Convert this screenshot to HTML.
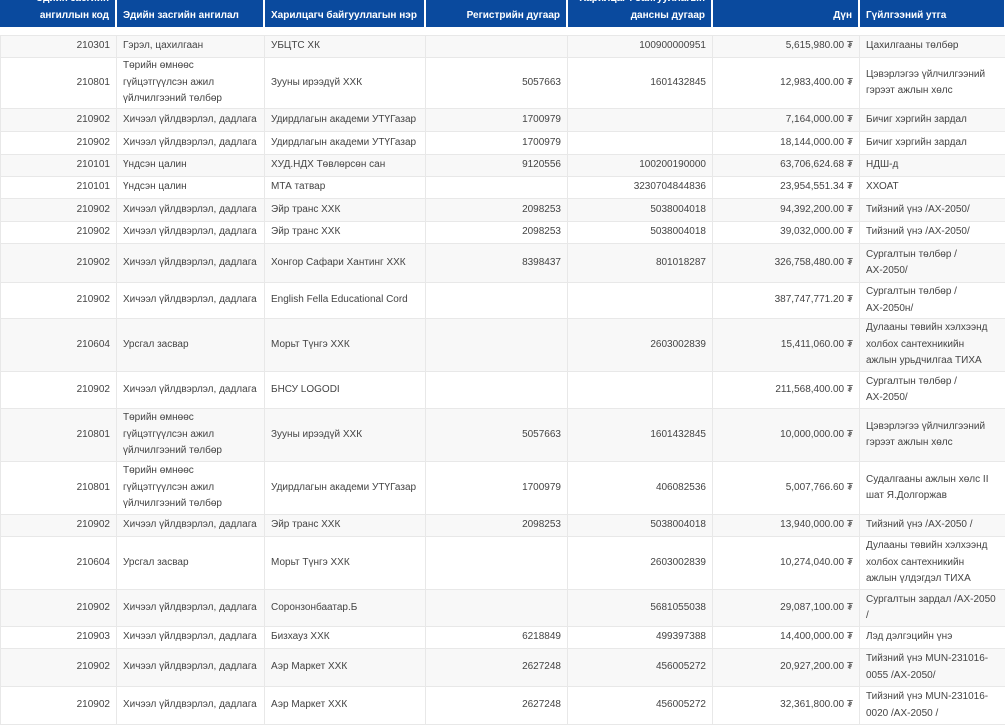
<!DOCTYPE html><html><head><meta charset="utf-8"><style>
body{margin:0;width:1005px;height:722px;overflow:hidden;background:#fff;font-family:"Liberation Sans","DejaVu Sans",sans-serif}
table{position:absolute;left:0;border-collapse:collapse;table-layout:fixed;width:1005px}
#h{top:-17px}
#h td{background:#0a4a9e;color:#fff;height:44px;font-size:10px;font-weight:bold;line-height:17px;border-right:2px solid #fff;padding:0 6px;vertical-align:bottom;padding-bottom:3px;box-sizing:border-box}
#b{top:35px}
#b td{font-size:10px;color:#444;line-height:16.5px;border:1px solid #e8e8e8;padding:0 6px;vertical-align:middle;overflow:hidden;box-sizing:border-box}
#b td:last-child{white-space:nowrap}
#b tr:nth-child(odd) td{background:#f8f8f8}
.r{text-align:right}
</style></head><body>
<table id="h"><colgroup><col style="width:116px"><col style="width:148px"><col style="width:161px"><col style="width:142px"><col style="width:145px"><col style="width:147px"><col style="width:146px"></colgroup>
<tr><td class="r">Эдийн засгийн ангиллын код</td><td>Эдийн засгийн ангилал</td><td>Харилцагч байгууллагын нэр</td><td class="r">Регистрийн дугаар</td><td class="r">Харилцагч байгууллагын дансны дугаар</td><td class="r">Дүн</td><td>Гүйлгээний утга</td></tr></table>
<table id="b"><colgroup><col style="width:116px"><col style="width:148px"><col style="width:161px"><col style="width:142px"><col style="width:145px"><col style="width:147px"><col style="width:146px"></colgroup>
<tr style="height:22px"><td class="r">210301</td><td>Гэрэл, цахилгаан</td><td>УБЦТС ХК</td><td></td><td class="r">100900000951</td><td class="r">5,615,980.00 ₮</td><td>Цахилгааны төлбөр</td></tr>
<tr style="height:51px"><td class="r">210801</td><td>Төрийн өмнөөс гүйцэтгүүлсэн ажил үйлчилгээний төлбөр</td><td>Зууны ирээдүй ХХК</td><td class="r">5057663</td><td class="r">1601432845</td><td class="r">12,983,400.00 ₮</td><td>Цэвэрлэгээ үйлчилгээний<br>гэрээт ажлын хөлс</td></tr>
<tr style="height:23px"><td class="r">210902</td><td>Хичээл үйлдвэрлэл, дадлага</td><td>Удирдлагын академи УТҮГазар</td><td class="r">1700979</td><td></td><td class="r">7,164,000.00 ₮</td><td>Бичиг хэргийн зардал</td></tr>
<tr style="height:23px"><td class="r">210902</td><td>Хичээл үйлдвэрлэл, дадлага</td><td>Удирдлагын академи УТҮГазар</td><td class="r">1700979</td><td></td><td class="r">18,144,000.00 ₮</td><td>Бичиг хэргийн зардал</td></tr>
<tr style="height:22px"><td class="r">210101</td><td>Үндсэн цалин</td><td>ХУД.НДХ Төвлөрсөн сан</td><td class="r">9120556</td><td class="r">100200190000</td><td class="r">63,706,624.68 ₮</td><td>НДШ-д</td></tr>
<tr style="height:22px"><td class="r">210101</td><td>Үндсэн цалин</td><td>МТА татвар</td><td></td><td class="r">3230704844836</td><td class="r">23,954,551.34 ₮</td><td>ХХОАТ</td></tr>
<tr style="height:23px"><td class="r">210902</td><td>Хичээл үйлдвэрлэл, дадлага</td><td>Эйр транс ХХК</td><td class="r">2098253</td><td class="r">5038004018</td><td class="r">94,392,200.00 ₮</td><td>Тийзний үнэ /АХ-2050/</td></tr>
<tr style="height:22px"><td class="r">210902</td><td>Хичээл үйлдвэрлэл, дадлага</td><td>Эйр транс ХХК</td><td class="r">2098253</td><td class="r">5038004018</td><td class="r">39,032,000.00 ₮</td><td>Тийзний үнэ /АХ-2050/</td></tr>
<tr style="height:39px"><td class="r">210902</td><td>Хичээл үйлдвэрлэл, дадлага</td><td>Хонгор Сафари Хантинг ХХК</td><td class="r">8398437</td><td class="r">801018287</td><td class="r">326,758,480.00 ₮</td><td>Сургалтын төлбөр /<br>АХ-2050/</td></tr>
<tr style="height:36px"><td class="r">210902</td><td>Хичээл үйлдвэрлэл, дадлага</td><td>English Fella Educational Cord</td><td></td><td></td><td class="r">387,747,771.20 ₮</td><td>Сургалтын төлбөр /<br>АХ-2050н/</td></tr>
<tr style="height:53px"><td class="r">210604</td><td>Урсгал засвар</td><td>Морьт Түнгэ ХХК</td><td></td><td class="r">2603002839</td><td class="r">15,411,060.00 ₮</td><td>Дулааны төвийн хэлхээнд<br>холбох сантехникийн<br>ажлын урьдчилгаа ТИХА</td></tr>
<tr style="height:37px"><td class="r">210902</td><td>Хичээл үйлдвэрлэл, дадлага</td><td>БНСУ LOGODI</td><td></td><td></td><td class="r">211,568,400.00 ₮</td><td>Сургалтын төлбөр /<br>АХ-2050/</td></tr>
<tr style="height:53px"><td class="r">210801</td><td>Төрийн өмнөөс гүйцэтгүүлсэн ажил үйлчилгээний төлбөр</td><td>Зууны ирээдүй ХХК</td><td class="r">5057663</td><td class="r">1601432845</td><td class="r">10,000,000.00 ₮</td><td>Цэвэрлэгээ үйлчилгээний<br>гэрээт ажлын хөлс</td></tr>
<tr style="height:53px"><td class="r">210801</td><td>Төрийн өмнөөс гүйцэтгүүлсэн ажил үйлчилгээний төлбөр</td><td>Удирдлагын академи УТҮГазар</td><td class="r">1700979</td><td class="r">406082536</td><td class="r">5,007,766.60 ₮</td><td>Судалгааны ажлын хөлс II<br>шат Я.Долгоржав</td></tr>
<tr style="height:22px"><td class="r">210902</td><td>Хичээл үйлдвэрлэл, дадлага</td><td>Эйр транс ХХК</td><td class="r">2098253</td><td class="r">5038004018</td><td class="r">13,940,000.00 ₮</td><td>Тийзний үнэ /АХ-2050 /</td></tr>
<tr style="height:53px"><td class="r">210604</td><td>Урсгал засвар</td><td>Морьт Түнгэ ХХК</td><td></td><td class="r">2603002839</td><td class="r">10,274,040.00 ₮</td><td>Дулааны төвийн хэлхээнд<br>холбох сантехникийн<br>ажлын үлдэгдэл ТИХА</td></tr>
<tr style="height:37px"><td class="r">210902</td><td>Хичээл үйлдвэрлэл, дадлага</td><td>Соронзонбаатар.Б</td><td></td><td class="r">5681055038</td><td class="r">29,087,100.00 ₮</td><td>Сургалтын зардал /АХ-2050<br>/</td></tr>
<tr style="height:22px"><td class="r">210903</td><td>Хичээл үйлдвэрлэл, дадлага</td><td>Бизхауз ХХК</td><td class="r">6218849</td><td class="r">499397388</td><td class="r">14,400,000.00 ₮</td><td>Лэд дэлгэцийн үнэ</td></tr>
<tr style="height:38px"><td class="r">210902</td><td>Хичээл үйлдвэрлэл, дадлага</td><td>Аэр Маркет ХХК</td><td class="r">2627248</td><td class="r">456005272</td><td class="r">20,927,200.00 ₮</td><td>Тийзний үнэ MUN-231016-<br>0055 /АХ-2050/</td></tr>
<tr style="height:38px"><td class="r">210902</td><td>Хичээл үйлдвэрлэл, дадлага</td><td>Аэр Маркет ХХК</td><td class="r">2627248</td><td class="r">456005272</td><td class="r">32,361,800.00 ₮</td><td>Тийзний үнэ MUN-231016-<br>0020 /АХ-2050 /</td></tr>
</table></body></html>
